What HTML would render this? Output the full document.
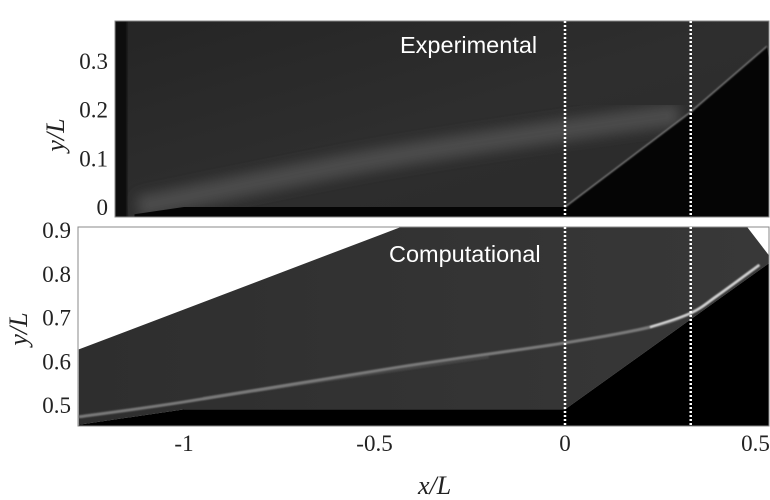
<!DOCTYPE html>
<html><head><meta charset="utf-8">
<style>
html,body{margin:0;padding:0;background:#fff;width:770px;height:500px;overflow:hidden}
svg{display:block}
.tk{font-family:"Liberation Serif",serif;font-size:23px;fill:#222}
.lab{font-family:"Liberation Serif",serif;font-size:26px;font-style:italic;fill:#222}
.ann{font-family:"Liberation Sans",sans-serif;font-size:23.5px;fill:#fff}
</style></head>
<body>
<svg id="fig" width="770" height="500" viewBox="0 0 770 500">
<defs>
<linearGradient id="gTop" x1="0" y1="0" x2="1" y2="1">
<stop offset="0" stop-color="#252525"/><stop offset="0.5" stop-color="#2e2e2e"/><stop offset="1" stop-color="#2a2a2a"/>
</linearGradient>
<linearGradient id="gBot" x1="0" y1="0" x2="1" y2="0">
<stop offset="0" stop-color="#2e2e2e"/><stop offset="1" stop-color="#383838"/>
</linearGradient>
<filter id="blur6"><feGaussianBlur stdDeviation="6"/></filter>
<filter id="blur1"><feGaussianBlur stdDeviation="0.9"/></filter>
<clipPath id="cTop"><rect x="115" y="21" width="654" height="196"/></clipPath>
<clipPath id="cBot"><rect x="78" y="227" width="691" height="199"/></clipPath>
</defs>
<g id="topPanel" clip-path="url(#cTop)"></g>
<g id="botPanel" clip-path="url(#cBot)"></g>
<g id="axesLayer"></g>
<text class="ann" x="400" y="53">Experimental</text>
<text class="ann" x="389" y="262">Computational</text>
<text class="lab" x="418" y="494">x/L</text>
<text class="lab" transform="translate(64,135) rotate(-90)" text-anchor="middle">y/L</text>
<text class="lab" transform="translate(27,329) rotate(-90)" text-anchor="middle">y/L</text>
</svg>
<script>
const xTicks=[-1,-0.5,0,0.5];
const xTickLabels=["-1","-0.5","0","0.5"];
const topYTicks=[0,0.1,0.2,0.3];
const topYTickLabels=["0","0.1","0.2","0.3"];
const botYTicks=[0.5,0.6,0.7,0.8,0.9];
const botYTickLabels=["0.5","0.6","0.7","0.8","0.9"];
const markerX=[0,0.33];
const topSurfX=[-1.13,-1.0,0,0.33,0.53];
const topSurfY=[-0.015,0,0,0.195,0.33];
const topShearX=[-1.12,-0.5,0,0.3];
const topShearY=[0.0,0.097,0.158,0.19];
const botSurfX=[-1.276,-1.0,0,0.537];
const botSurfY=[0.455,0.49,0.49,0.825];
const botEdgeX=[-1.276,-0.43];
const botEdgeY=[0.627,0.907];
const botShearX=[-1.276,-1.0,-0.433,0,0.223,0.33,0.4,0.51];
const botShearY=[0.473,0.507,0.587,0.642,0.678,0.71,0.75,0.82];
const botShear2X=[-0.95,-0.6,-0.2];
const botShear2Y=[0.515,0.56,0.61];

const NS="http://www.w3.org/2000/svg";
const X=v=>565+v*381;
const YT=v=>207-v*487;
const YB=v=>230-(v-0.9)*437.5;
function mk(t,a,p){const e=document.createElementNS(NS,t);for(const k in a)e.setAttribute(k,a[k]);p.appendChild(e);return e;}
const topG=document.getElementById('topPanel'),botG=document.getElementById('botPanel'),axesG=document.getElementById('axesLayer');
function pts(xs,ys,Y){return xs.map((x,i)=>X(x).toFixed(1)+','+Y(ys[i]).toFixed(1));}
function smooth(xs,ys,Y){
 const p=xs.map((x,i)=>[X(x),Y(ys[i])]);
 let d='M'+p[0][0]+','+p[0][1];
 for(let i=0;i<p.length-1;i++){
  const p0=p[Math.max(i-1,0)],p1=p[i],p2=p[i+1],p3=p[Math.min(i+2,p.length-1)];
  const c1=[p1[0]+(p2[0]-p0[0])/6,p1[1]+(p2[1]-p0[1])/6];
  const c2=[p2[0]-(p3[0]-p1[0])/6,p2[1]-(p3[1]-p1[1])/6];
  d+=' C'+c1.join(',')+' '+c2.join(',')+' '+p2.join(',');
 }
 return d;
}

let e=mk('rect',{x:115,y:21,width:654,height:196,fill:'url(#gTop)'},topG);


e=mk('path',{d:smooth(topShearX,topShearY,YT),fill:'none',stroke:'#4c4c4c',"stroke-width":22,filter:'url(#blur6)'},topG);


e=mk('polygon',{points:pts(topSurfX,topSurfY,YT).join(' ')+' '+X(0.6)+',230 '+X(-1.13)+',230',fill:'#050505'},topG);


e=mk('rect',{x:115,y:21,width:12,height:196,fill:'#0a0a0a',filter:'url(#blur1)'},topG);


e=mk('polyline',{points:pts(topSurfX.slice(2),topSurfY.slice(2),YT).join(' '),fill:'none',stroke:'#777',"stroke-width":1.5,filter:'url(#blur1)'},topG);



e=mk('rect',{x:78,y:227,width:691,height:199,fill:'#fff'},botG);


const poly=pts(botEdgeX,botEdgeY,YB).concat([X(0.478)+',227',X(0.537)+','+YB(0.84)]).concat(pts(botSurfX,botSurfY,YB).reverse());
e=mk('polygon',{points:poly.join(' '),fill:'url(#gBot)'},botG);


e=mk('polyline',{points:pts(botShear2X,botShear2Y,YB).join(' '),fill:'none',stroke:'#444',"stroke-width":3,filter:'url(#blur1)'},botG);


e=mk('path',{d:smooth(botShearX,botShearY,YB),fill:'none',stroke:'#7a7a7a',"stroke-width":3,filter:'url(#blur1)'},botG);


e=mk('path',{d:smooth(botShearX.slice(4),botShearY.slice(4),YB),fill:'none',stroke:'#ddd',"stroke-width":2,filter:'url(#blur1)'},botG);


e=mk('polygon',{points:pts(botSurfX,botSurfY,YB).join(' ')+' 769,440 78,440',fill:'#000'},botG);



[[115,21,654,196],[78,227,691,199]].forEach((r,i)=>{
 const f=mk('rect',{x:r[0],y:r[1],width:r[2],height:r[3],fill:'none',stroke:'#888',"stroke-width":1},axesG);
 
 
});
markerX.forEach(v=>{
 [[21,217],[227,426]].forEach(r=>{
  const l=mk('line',{x1:X(v),x2:X(v),y1:r[0],y2:r[1],stroke:'#fff',"stroke-width":2.5,"stroke-dasharray":"2 2"},axesG);
  
  
 });
});
xTicks.forEach((v,i)=>{
 const t=mk('text',{x:X(v),y:451,"text-anchor":"middle",class:'tk'},axesG);t.textContent=xTickLabels[i];
 
 
});
topYTicks.forEach((v,i)=>{
 const t=mk('text',{x:108,y:YT(v)+8,"text-anchor":"end",class:'tk'},axesG);t.textContent=topYTickLabels[i];
 
 
});
botYTicks.forEach((v,i)=>{
 const t=mk('text',{x:71,y:YB(v)+8,"text-anchor":"end",class:'tk'},axesG);t.textContent=botYTickLabels[i];
 
 
});
</script>
</body></html>
